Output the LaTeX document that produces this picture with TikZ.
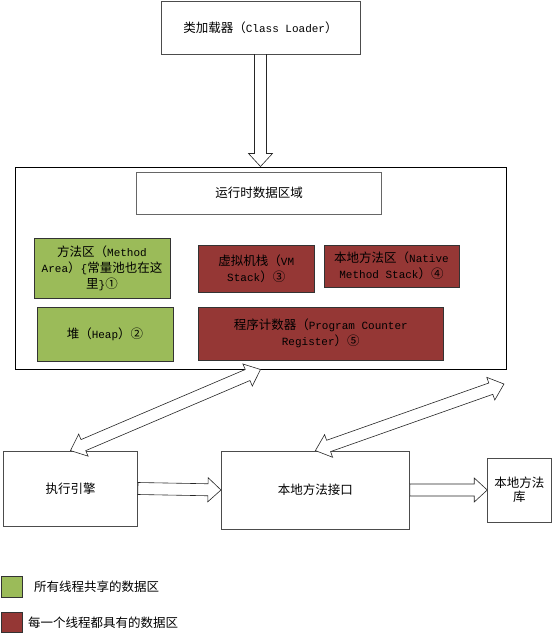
\documentclass[tikz,border=0pt]{standalone}
\usepackage{fontspec}
\setmainfont{Noto Sans CJK SC}
\newfontfamily\mono[Scale=0.88]{Liberation Mono}
\usetikzlibrary{calc}

\definecolor{sharedgreen}{RGB}{155,187,89}
\definecolor{threadred}{RGB}{149,55,53}

% hollow block arrows between two points
\newcommand{\fatone}[2]{%
	\draw[fatarrow] let \p1=(#1), \p2=(#2),
		\n1={atan2(\y2-\y1,\x2-\x1)}, \n2={veclen(\x2-\x1,\y2-\y1)} in
		[shift={(\p1)}, rotate=\n1]
		(0,6) -- (\n2-13,6) -- (\n2-13,12) -- (\n2,0) -- (\n2-13,-12) -- (\n2-13,-6) -- (0,-6) -- cycle;}
\newcommand{\fattwo}[2]{%
	\draw[fatarrow] let \p1=(#1), \p2=(#2),
		\n1={atan2(\y2-\y1,\x2-\x1)}, \n2={veclen(\x2-\x1,\y2-\y1)} in
		[shift={(\p1)}, rotate=\n1]
		(14,6) -- (\n2-14,6) -- (\n2-14,12) -- (\n2,0) -- (\n2-14,-12) -- (\n2-14,-6) -- (14,-6) -- (14,-12) -- (0,0) -- (14,12) -- cycle;}

\begin{document}
\begin{tikzpicture}[
	x=1pt, y=-1pt,
	every node/.style={font=\fontsize{12.5}{16}\selectfont},
	box/.style={draw=black!70, line width=0.8pt, inner sep=0pt, align=center},
	sharedbox/.style={box, draw=black!80, fill=sharedgreen},
	threadbox/.style={box, draw=black!80, fill=threadred},
	fatarrow/.style={draw=black!85, line width=0.6pt, fill=white, line join=miter}
	]
	\useasboundingbox (0,0) rectangle (553,635);
	
	% Class loader and runtime data area
	\node[box, minimum width=199pt, minimum height=53pt] (loader) at (260.5,27.5) {类加载器（{\mono Class Loader}）};
	\node[box, draw=black, line width=1pt, minimum width=491pt, minimum height=202pt] (rda) at (260.5,268) {};
	\node[box, draw=black!60, minimum width=245pt, minimum height=42pt] (title) at (259,193) {运行时数据区域};
	
	% Areas shared by all threads
	\node[sharedbox, minimum width=136pt, minimum height=60pt] (method) at (102,268) {方法区（{\mono Method}\\{\mono Area}）{\mono\{}常量池也在这\\里{\mono\}}①};
	\node[sharedbox, minimum width=136pt, minimum height=54pt] (heap) at (105,334) {堆（{\mono Heap}）②};
	
	% Areas owned by each thread
	\node[threadbox, minimum width=116.5pt, minimum height=47pt] (vmstack) at (256.25,268.5) {虚拟机栈（{\mono VM}\\{\mono Stack}）③};
	\node[threadbox, minimum width=135pt, minimum height=42pt] (nstack) at (391.5,266) {本地方法区（{\mono Native}\\{\mono Method Stack}）④};
	\node[threadbox, minimum width=245.6pt, minimum height=53pt] (pc) at (320.8,333.5) {程序计数器（{\mono Program Counter}\\{\mono Register}）⑤};
	
	% Execution engine and native side
	\node[box, minimum width=134pt, minimum height=75pt] (exec) at (70.5,488.5) {执行引擎};
	\node[box, minimum width=188pt, minimum height=78pt] (iface) at (315.4,490) {本地方法接口};
	\node[box, minimum width=63.3pt, minimum height=64pt, font=\fontsize{12.5}{14}\selectfont] (lib) at (519.3,490) {本地方法\\库};
	\coordinate (nativeend) at (504,384);
	
	% Connections
	\fatone{loader.south}{rda.north}
	\fattwo{exec.north}{rda.south}
	\fattwo{iface.north}{nativeend}
	\fatone{exec.east}{iface.west}
	\fatone{iface.east}{lib.west}
	
	% Legend
	\foreach \c/\y/\x/\txt in {sharedgreen/587/34/所有线程共享的数据区, threadred/622.5/28/每一个线程都具有的数据区} {
		\node[box, draw=black!80, line width=1pt, fill=\c, minimum width=21pt, minimum height=20.5pt] (key\c) at (12.2,\y) {};
		\node[anchor=west, inner sep=0pt] (label\c) at (\x,\y) {\txt};
	}
	
\end{tikzpicture}
\end{document}
